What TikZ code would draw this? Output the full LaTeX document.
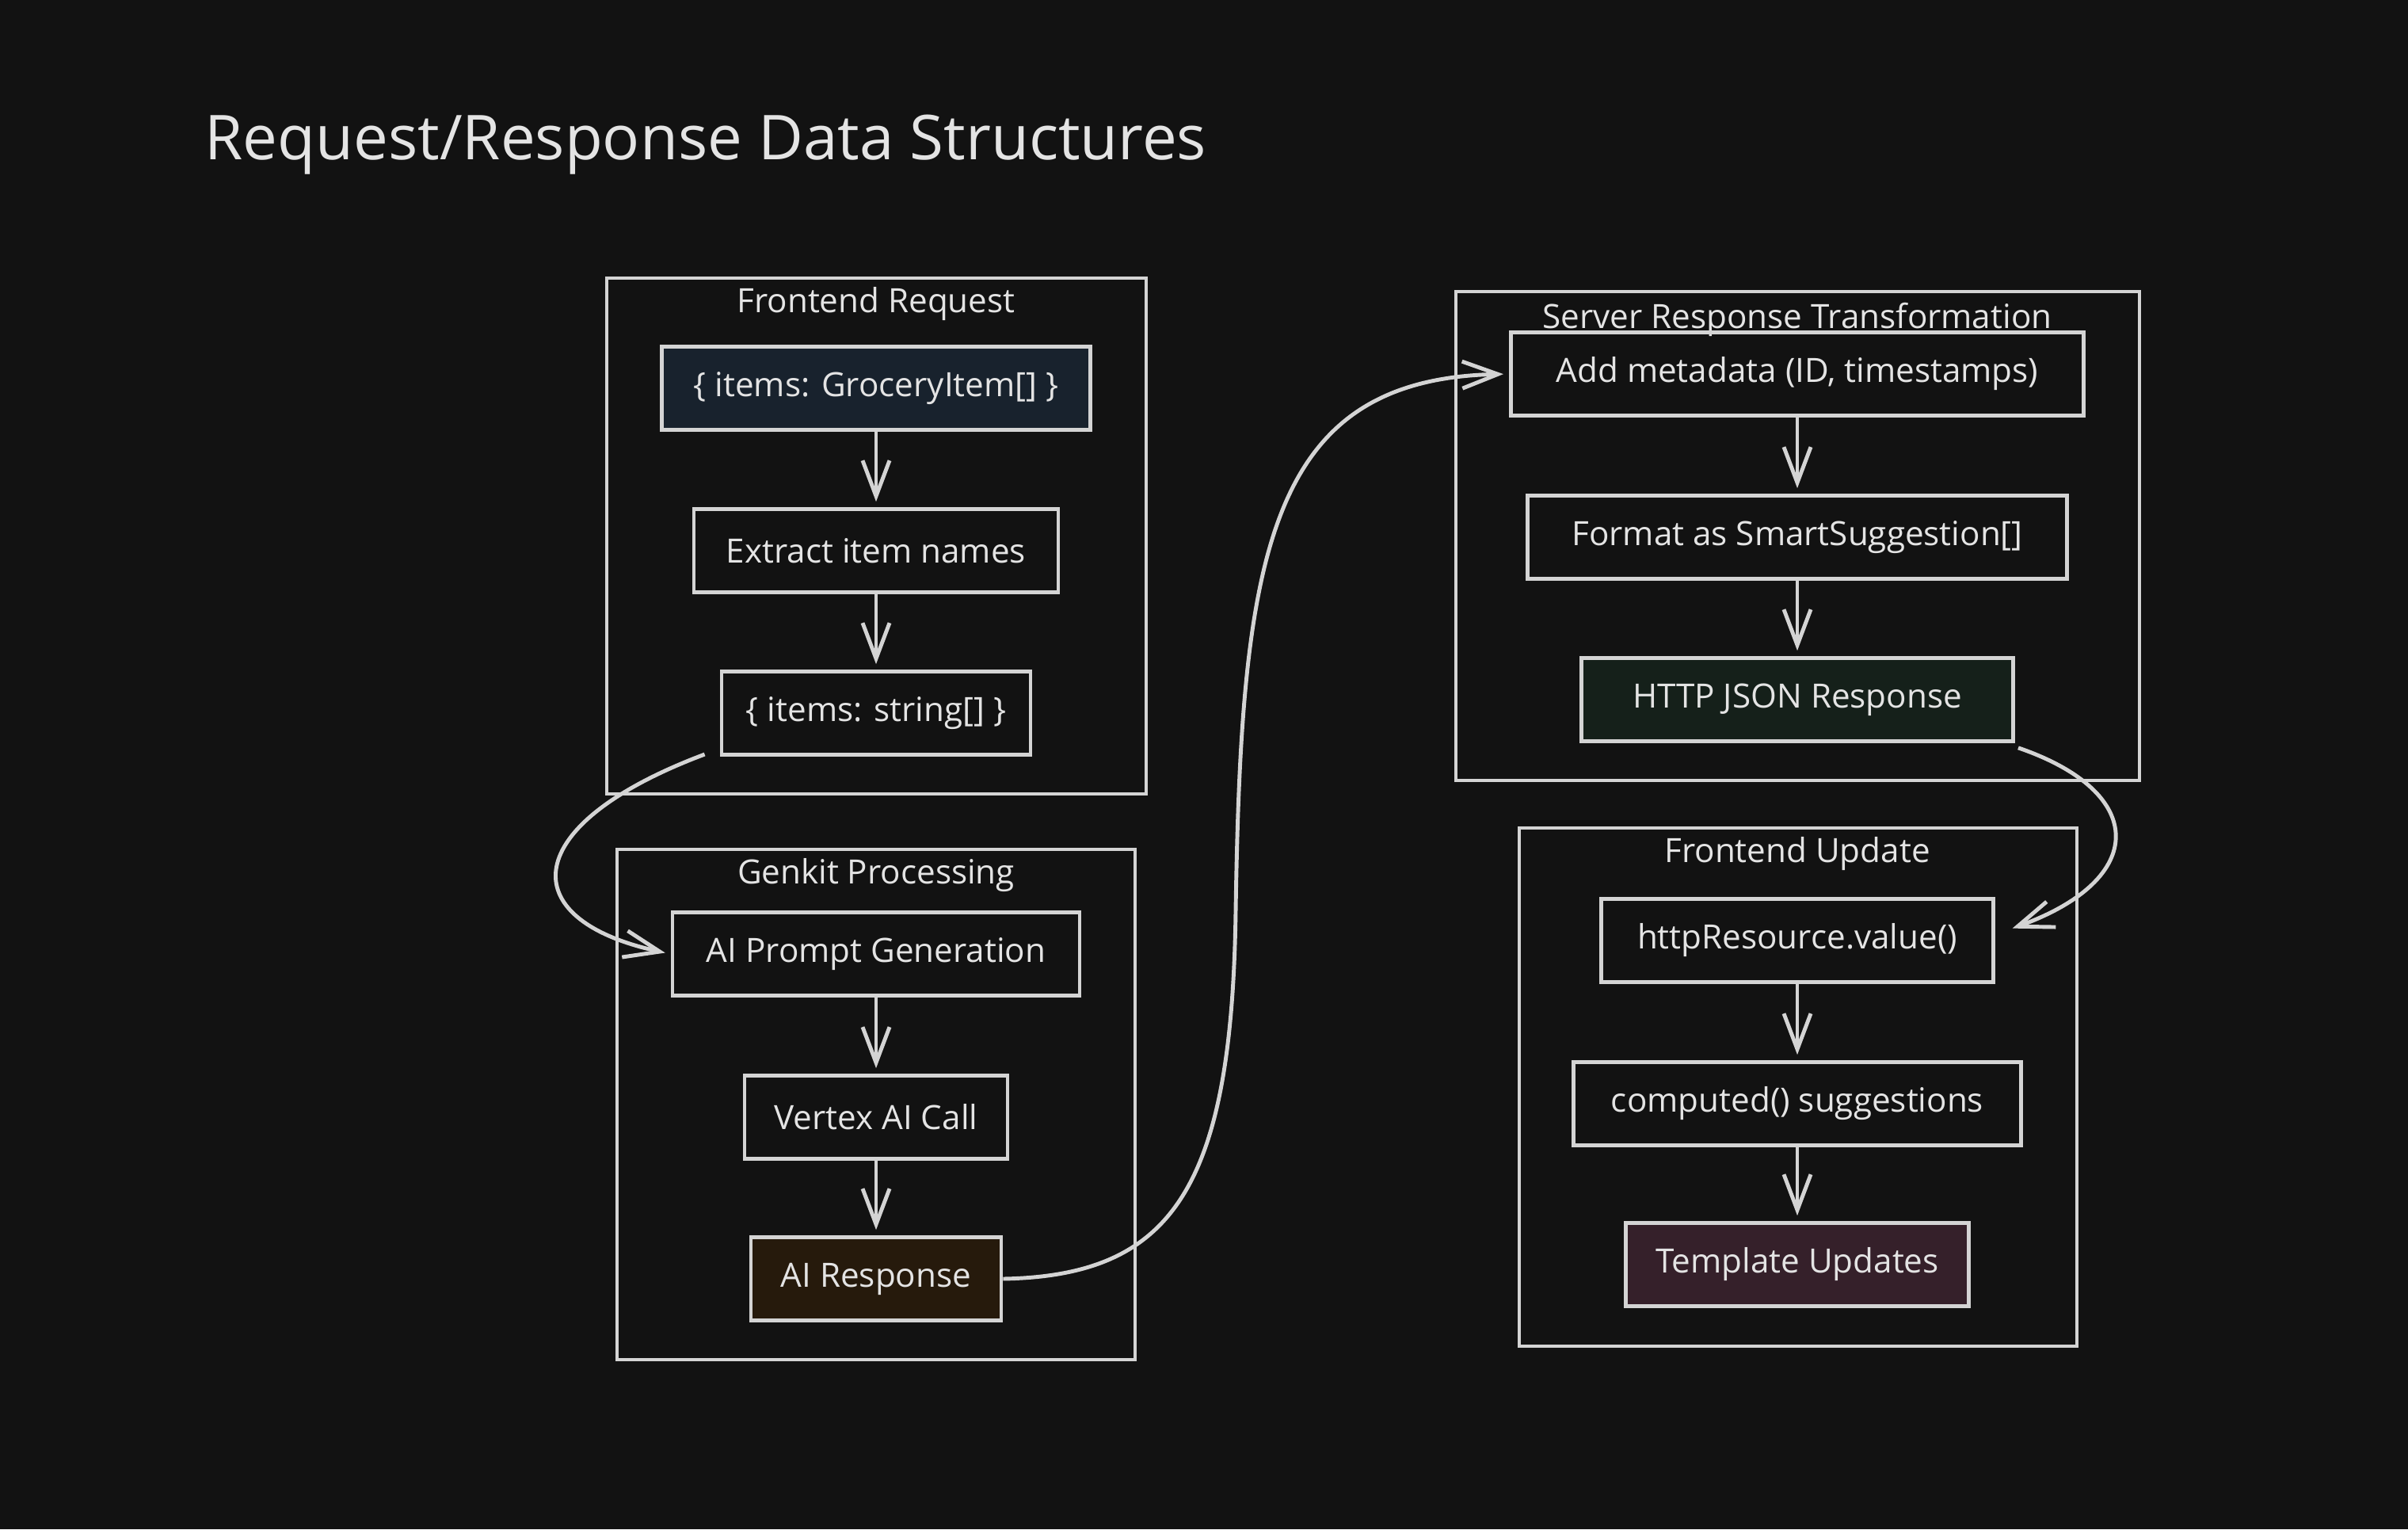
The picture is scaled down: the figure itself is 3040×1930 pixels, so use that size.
\documentclass[tikz,border=0pt]{standalone}
\usepackage{fontspec}
\setmainfont{Open Sans}
\usetikzlibrary{arrows.meta}
\definecolor{bgc}{HTML}{121212}
\definecolor{linec}{HTML}{D4D4D4}
\definecolor{textc}{HTML}{E4E4E4}
\definecolor{navyc}{HTML}{18222D}
\definecolor{brownc}{HTML}{261A0C}
\definecolor{greenc}{HTML}{15201A}
\definecolor{plumc}{HTML}{35202A}
\tikzset{
    stepbox/.style={draw=linec, line width=1.3pt, text=textc, minimum height=1.05cm,
        inner sep=0pt, font=\fontsize{12}{14}\selectfont},
    groupbox/.style={draw=linec, line width=1.2pt},
    grouptitle/.style={text=textc, inner sep=0pt, font=\fontsize{12}{14}\selectfont},
    flow/.style={draw=linec, line width=1.4pt, shorten >=2pt,
        -{Straight Barb[length=0.45cm, width=0.34cm, line width=1.4pt]}},
}
\begin{document}
\begin{tikzpicture}[x=0.01cm, y=-0.01cm]
        \fill[bgc] (0,0) rectangle (3040,1930);
        \node[anchor=west, text=textc, inner sep=0pt, font=\fontsize{22.2}{26}\selectfont] (title) at (258,183) {Request/Response Data Structures};
        \draw[groupbox] (766,351) rectangle (1447,1002);
        \draw[groupbox] (779,1072) rectangle (1433,1716);
        \draw[groupbox] (1838,368) rectangle (2701,985);
        \draw[groupbox] (1918,1045) rectangle (2622,1699);
        \node[grouptitle] (reqtitle) at (1106,384) {Frontend Request};
        \node[grouptitle] (gentitle) at (1106,1105) {Genkit Processing};
        \node[grouptitle] (srvtitle) at (2269,403) {Server Response Transformation};
        \node[grouptitle] (updtitle) at (2269,1078) {Frontend Update};
        \node[stepbox, fill=navyc, minimum width=5.41cm] (items) at (1106,490) {\{ items: GroceryItem[] \}};
        \node[stepbox, minimum width=4.60cm] (names) at (1106,695) {Extract item names};
        \node[stepbox, minimum width=3.90cm] (strings) at (1106,900) {\{ items: string[] \}};
        \node[stepbox, minimum width=5.14cm] (prompt) at (1106,1204) {AI Prompt Generation};
        \node[stepbox, minimum width=3.32cm] (vertex) at (1106,1410) {Vertex AI Call};
        \node[stepbox, fill=brownc, minimum width=3.16cm] (airesp) at (1106,1614) {AI Response};
        \node[stepbox, minimum width=7.23cm] (meta) at (2269,472) {Add metadata (ID, timestamps)};
        \node[stepbox, minimum width=6.81cm] (format) at (2269,678) {Format as SmartSuggestion[]};
        \node[stepbox, fill=greenc, minimum width=5.45cm] (json) at (2269,883) {HTTP JSON Response};
        \node[stepbox, minimum width=4.95cm] (value) at (2269,1187) {httpResource.value()};
        \node[stepbox, minimum width=5.65cm] (computed) at (2269,1393) {computed() suggestions};
        \node[stepbox, fill=plumc, minimum width=4.33cm] (template) at (2269,1596) {Template Updates};
        \foreach \a/\b in {items/names, names/strings, prompt/vertex, vertex/airesp, meta/format, format/json, value/computed, computed/template}
            \draw[flow] (\a) -- (\b);
        \draw[flow] ([xshift=-0.19cm, yshift=-0.52cm]strings.west) .. controls (655,1040) and (645,1160) .. (prompt.west);
        \draw[flow] (airesp.east) .. controls (1480,1610) and (1555,1500) .. (1560,1150) .. controls (1567,700) and (1600,478) .. (meta.west);
        \draw[flow] ([xshift=0.04cm, yshift=-0.06cm]json.south east) .. controls (2712,1000) and (2712,1110) .. ([xshift=0.15cm, yshift=0.13cm]value.east);
\end{tikzpicture}
\end{document}
